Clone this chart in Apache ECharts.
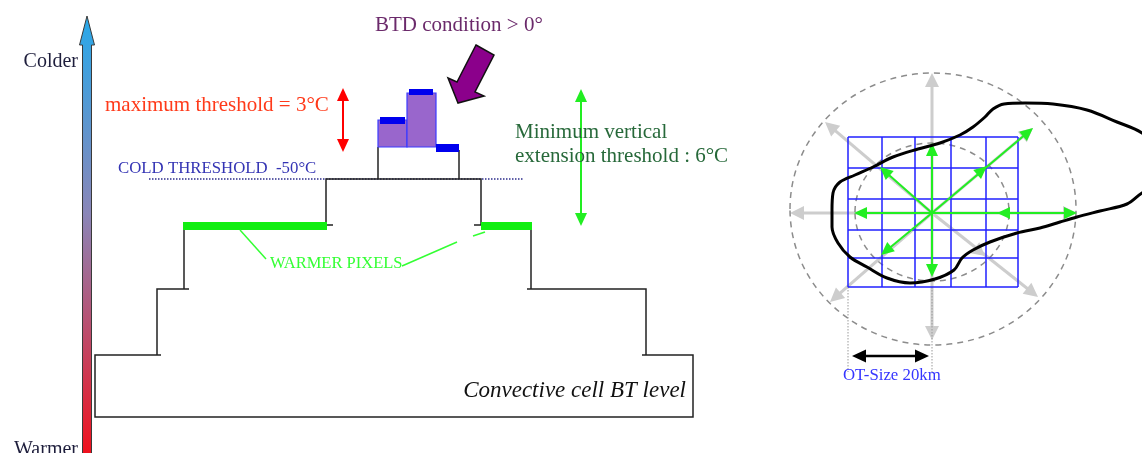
<!DOCTYPE html>
<html><head><meta charset="utf-8">
<script src="https://cdn.jsdelivr.net/npm/echarts@6/dist/echarts.min.js"></script>
<style>html,body{margin:0;padding:0;background:#fff}#c{width:1142px;height:453px}</style>
</head><body><div id="c"></div>
<script>
// ===== DATA (diagram units: the frame is 1142 x 453 units) =====
const frameX = [0, 1142];
const frameY = [0, 453];

// temperature scale arrow: x, warm end, cold tip
const temperatureAxis = [[87, 453, 16]];

// convective cell brightness-temperature staircase
const staircase = [
  [[161,355],[95,355],[95,417],[693,417],[693,355],[642,355]],
  [[157,355],[157,289],[189,289]],
  [[184,289],[184,229]],
  [[646,355],[646,289],[527,289]],
  [[531,289],[531,229]],
  [[333,225],[326,225],[326,179],[481,179],[481,225],[474,225]],
  [[378,179],[378,147]],
  [[459,179],[459,150]]
];
const coldThreshold = [[149,179],[523,179]];
const warmerPixels = [[183,327,222,230],[481,532,222,230]];      // x0,x1,yTop,yBottom
const btdBars = [[378,407,120,147],[407,436,93,147]];
const btdCaps = [[380,405,117,124],[409,433,89,95],[436,459,144,152]];
const warmerLeaders = [
  [[240,230],[266,259]],
  [[402,266],[457,242]],
  [[473,236],[485,232]]
];
const maxThresholdArrow = [[343,88,343,152,1,1]];               // x1,y1,x2,y2,headStart,headEnd
const minExtensionArrow = [[581,89,581,226,1,1]];
const btdPointer = [[476,45],[494,55],[475,92],[484,96],[458,103],[448,78],[457,82]];

// overshooting-top test (right panel)
const rayCenter = [932,213];
const rings = [[933,209,143,136],[932,212,77,69]];               // cx,cy,rx,ry
const greyRayEnds = [[932,73],[825,122],[790,213],[830,302],[932,340],[1038,297],[1077,213],[1033,128]];
const greenRayEnds = [[932,143],[880,167],[854,213],[881,255],[932,277],[1077,213],[1033,128]];
const greenMidHeads = [[997,213,1077,213],[987,166,932,213]];    // tip, pointing away from
const greyMidHeads = [[985,256,932,213]];
const pixelGridX = [848,882,915,951,986,1018];
const pixelGridY = [137,168,199,230,258,287];
const cloudOutline = [
  [832,210],[833,193],[840,182],[855,175],[873,167],[893,157],[918,149],[940,143],[960,135],
  [973,127],[985,117],[993,109],[1004,104],[1025,103],[1053,104],[1087,110],[1117,122],[1142,133],
  [1166,155],[1166,180],[1142,193],[1127,204],[1100,211],[1077,217],[1060,222],[1040,228],[1017,233],
  [990,242],[973,250],[962,258],[954,270],[935,279],[910,283],[887,278],[867,267],[850,257],
  [838,243],[832,227],[832,210]
];
const otGuides = [[[848,287],[848,372]],[[932,287],[932,372]]];
const otSizeArrow = [[852,356,929,356,1,1]];

// texts
const textLabels = ['Colder','Warmer','maximum threshold = 3°C','COLD THRESHOLD  -50°C','BTD condition > 0°',
  'Minimum vertical','extension threshold : 6°C','WARMER PIXELS','Convective cell BT level','OT-Size 20km'];

// ===== LAYOUT / STYLE =====
const SERIF = "'Liberation Serif','DejaVu Serif',serif";
const textLayout = [
  {at:[78,62],  align:'right', size:20, color:'#1e1e3c'},
  {at:[78,450], align:'right', size:20, color:'#1e1e3c'},
  {at:[105,105],align:'left',  size:21, color:'#ff3a1a'},
  {at:[118,169],align:'left',  size:16.8, color:'#3434b4'},
  {at:[375,25], align:'left',  size:21, color:'#6b2a6b'},
  {at:[515,132],align:'left',  size:21, color:'#27693a'},
  {at:[515,156],align:'left',  size:21, color:'#27693a'},
  {at:[270,264],align:'left',  size:16.5, color:'#33ff33'},
  {at:[686,391],align:'right', size:23, color:'#111111', italic:true},
  {at:[843,376],align:'left',  size:16.8, color:'#3535ff'}
];

const chart = echarts.init(document.getElementById('c'), null, {renderer:'canvas'});

function lineSeries(points, color, width, type, z, smooth){
  return {type:'line', data:points, symbol:'none', silent:true, animation:false, z:z, smooth:smooth||false,
    lineStyle:{color:color, width:width, type:type||'solid', cap:'butt', join:'miter'}};
}
function rectSeries(rows, style, z){
  return {type:'custom', coordinateSystem:'cartesian2d', data:rows, z:z, silent:true, animation:false,
    renderItem:function(params, api){
      const p0 = api.coord([api.value(0), api.value(2)]);
      const p1 = api.coord([api.value(1), api.value(3)]);
      return {type:'rect', shape:{x:Math.min(p0[0],p1[0]), y:Math.min(p0[1],p1[1]),
        width:Math.abs(p1[0]-p0[0]), height:Math.abs(p1[1]-p0[1])}, style:style};
    }};
}
function headShape(tip, from, s){
  const dx = tip[0]-from[0], dy = tip[1]-from[1];
  const L = Math.hypot(dx,dy) || 1, ux = dx/L, uy = dy/L;
  const bx = tip[0]-ux*s.len, by = tip[1]-uy*s.len;
  return {type:'polygon', shape:{points:[[tip[0],tip[1]],[bx-uy*s.half, by+ux*s.half],[bx+uy*s.half, by-ux*s.half]]},
    style:{fill:s.color}};
}
function arrowSeries(rows, s, z){
  return {type:'custom', coordinateSystem:'cartesian2d', data:rows, z:z, silent:true, animation:false,
    renderItem:function(params, api){
      let a = api.coord([api.value(0), api.value(1)]);
      let b = api.coord([api.value(2), api.value(3)]);
      const dx=b[0]-a[0], dy=b[1]-a[1], L=Math.hypot(dx,dy)||1, ux=dx/L, uy=dy/L;
      const hs = api.value(4), he = api.value(5);
      const a2 = hs ? [a[0]+ux*s.len*0.6, a[1]+uy*s.len*0.6] : a;
      const b2 = he ? [b[0]-ux*s.len*0.6, b[1]-uy*s.len*0.6] : b;
      const ch = [{type:'line', shape:{x1:a2[0],y1:a2[1],x2:b2[0],y2:b2[1]}, style:{stroke:s.color, lineWidth:s.width}}];
      if (he) ch.push(headShape(b, a, s));
      if (hs) ch.push(headShape(a, b, s));
      return {type:'group', children:ch};
    }};
}
function headSeries(rows, s, z){
  return {type:'custom', coordinateSystem:'cartesian2d', data:rows, z:z, silent:true, animation:false,
    renderItem:function(params, api){
      const tip = api.coord([api.value(0), api.value(1)]);
      const from = api.coord([api.value(2), api.value(3)]);
      return headShape(tip, from, s);
    }};
}
function rays(ends){
  return ends.map(e => [rayCenter[0], rayCenter[1], e[0], e[1], 0, 1]);
}

const series = [];

// temperature arrow with gradient
series.push({type:'custom', coordinateSystem:'cartesian2d', data:temperatureAxis, z:3, silent:true, animation:false,
  renderItem:function(params, api){
    const b = api.coord([api.value(0), api.value(1)]);
    const t = api.coord([api.value(0), api.value(2)]);
    const x = b[0], sw = 4.5, hw = 7.5, hl = 29;
    return {type:'polygon', shape:{points:[[x-sw,b[1]+2],[x-sw,t[1]+hl],[x-hw,t[1]+hl],[x,t[1]],[x+hw,t[1]+hl],[x+sw,t[1]+hl],[x+sw,b[1]+2]]},
      style:{fill:new echarts.graphic.LinearGradient(0,0,0,1,[
        {offset:0,color:'#27a9ea'},{offset:0.45,color:'#8a86b8'},{offset:1,color:'#f0101c'}]),
        stroke:'#3a3a3a', lineWidth:1}};
  }});

// cold threshold dotted line
series.push(lineSeries(coldThreshold, '#2d2d8c', 1.5, [1.5,1.5], 2));
// staircase
staircase.forEach(p => series.push(lineSeries(p, '#222222', 1.5, 'solid', 3)));
// warmer pixels
series.push(rectSeries(warmerPixels, {fill:'#11ee11'}, 4));
warmerLeaders.forEach(p => series.push(lineSeries(p, '#33ff33', 1.5, 'solid', 4)));
// BTD bars
series.push(rectSeries(btdBars, {fill:'#9966cc', stroke:'#3b3bff', lineWidth:1.2}, 4));
series.push(rectSeries(btdCaps, {fill:'#0000ee'}, 5));
// double arrows
series.push(arrowSeries(maxThresholdArrow, {color:'#ff0000', width:2, len:13, half:6}, 5));
series.push(arrowSeries(minExtensionArrow, {color:'#22ee22', width:2, len:13, half:6}, 5));
// BTD pointer
series.push({type:'custom', coordinateSystem:'cartesian2d', data:btdPointer, z:5, silent:true, animation:false,
  renderItem:function(params, api){
    if (params.dataIndex !== 0) return null;
    const pts = btdPointer.map(p => api.coord(p));
    return {type:'polygon', shape:{points:pts}, style:{fill:'#8b008b', stroke:'#111111', lineWidth:1.5, lineJoin:'miter'}};
  }});

// right panel
series.push(arrowSeries(rays(greyRayEnds), {color:'#cdcdcd', width:3, len:14, half:7}, 2));
series.push(headSeries(greyMidHeads, {color:'#cdcdcd', len:13, half:7}, 2));
series.push({type:'custom', coordinateSystem:'cartesian2d', data:rings, z:3, silent:true, animation:false,
  renderItem:function(params, api){
    const c = api.coord([api.value(0), api.value(1)]);
    const e = api.coord([api.value(0)+api.value(2), api.value(1)+api.value(3)]);
    return {type:'ellipse', shape:{cx:c[0], cy:c[1], rx:Math.abs(e[0]-c[0]), ry:Math.abs(e[1]-c[1])},
      style:{fill:null, stroke:'#8c8c8c', lineWidth:1.5, lineDash:[6,5]}};
  }});
pixelGridX.forEach(x => series.push(lineSeries([[x,pixelGridY[0]],[x,pixelGridY[pixelGridY.length-1]]], '#2020ff', 1.5, 'solid', 4)));
pixelGridY.forEach(y => series.push(lineSeries([[pixelGridX[0],y],[pixelGridX[pixelGridX.length-1],y]], '#2020ff', 1.5, 'solid', 4)));
series.push(arrowSeries(rays(greenRayEnds), {color:'#22ee22', width:2, len:13, half:6}, 5));
series.push(headSeries(greenMidHeads, {color:'#22ee22', len:13, half:6}, 5));
series.push(lineSeries(cloudOutline, '#000000', 3, 'solid', 6, 0.35));
otGuides.forEach(p => series.push(lineSeries(p, '#9a9a9a', 1, [1.5,1.5], 2)));
series.push(arrowSeries(otSizeArrow, {color:'#000000', width:2.5, len:14, half:6.5}, 5));

// texts
series.push({type:'custom', coordinateSystem:'cartesian2d', data:textLayout.map(t => t.at), z:10, silent:true, animation:false,
  renderItem:function(params, api){
    const i = params.dataIndex, L = textLayout[i];
    const p = api.coord([api.value(0), api.value(1)]);
    return {type:'text', x:p[0], y:p[1], style:{text:textLabels[i], fill:L.color, align:L.align, verticalAlign:'middle',
      font:(L.italic?'italic ':'') + L.size + 'px ' + SERIF}};
  }});

chart.setOption({
  animation:false,
  backgroundColor:'#ffffff',
  grid:{left:0, right:0, top:0, bottom:0, containLabel:false},
  xAxis:{type:'value', min:frameX[0], max:frameX[1], show:false},
  yAxis:{type:'value', min:frameY[0], max:frameY[1], inverse:true, show:false},
  series:series
});
</script></body></html>
